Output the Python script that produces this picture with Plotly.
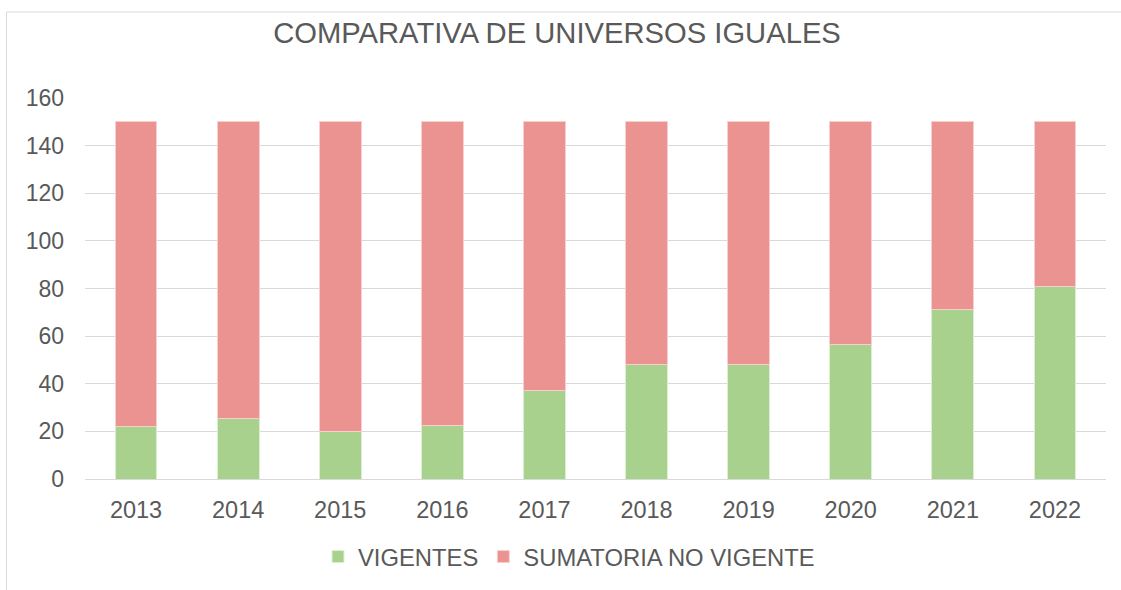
import plotly.graph_objects as go

years = ["2013", "2014", "2015", "2016", "2017", "2018", "2019", "2020", "2021", "2022"]
vigentes = [22, 25.5, 20, 22.6, 37, 48, 48, 56.6, 71, 81]
total = [150, 150, 150, 150, 150, 150, 150, 150, 150, 150]
no_vigente = [t - v for t, v in zip(total, vigentes)]

W, H = 1121, 590
L, R, T, B = 85, 15, 98, 109
pw, ph = W - L - R, H - T - B

def px(x):
    return (x - L) / pw

def py(y):
    return (H - B - y) / ph

fig = go.Figure()
fig.add_trace(go.Bar(x=years, y=vigentes, name="VIGENTES",
                     marker=dict(color="#A9D18E", line=dict(color="#DDEFD2", width=1))))
fig.add_trace(go.Bar(x=years, y=no_vigente, name="SUMATORIA NO VIGENTE",
                     marker=dict(color="#EB9391", line=dict(color="#F6CFCE", width=1))))

fig.update_layout(
    width=W, height=H,
    barmode="stack", bargap=0.59,
    margin=dict(l=L, r=R, t=T, b=B),
    paper_bgcolor="white", plot_bgcolor="white",
    font=dict(family="Liberation Sans, Arial, sans-serif", color="#595959", size=23),
    title=dict(text="COMPARATIVA DE UNIVERSOS IGUALES", x=557 / W, xanchor="center",
               y=1 - 33 / H, yanchor="middle",
               font=dict(size=29.2, color="#595959")),
    legend=dict(orientation="h", x=px(318), xanchor="left", y=py(559), yanchor="middle",
                font=dict(size=23.8, color="#595959"), traceorder="normal",
                itemwidth=30),
    xaxis=dict(showgrid=False, showline=False, ticks="", ticklabelstandoff=14,
               tickfont=dict(size=23.5, color="#595959")),
    yaxis=dict(range=[0, 160], dtick=20, showgrid=True, gridcolor="#D9D9D9", gridwidth=1,
               zeroline=True, zerolinecolor="#D9D9D9", zerolinewidth=1,
               showline=False, ticks="", ticklabelstandoff=20,
               tickfont=dict(size=23, color="#595959")),
    shapes=[dict(type="rect", xref="paper", yref="paper",
                 x0=px(6.5), x1=px(1130), y0=py(600), y1=py(11.5),
                 line=dict(color="#D9D9D9", width=1), layer="below")],
)

fig.write_html("out.html", config={"displayModeBar": False},
               post_script="document.body.style.margin='0';document.body.style.overflow='hidden';")
